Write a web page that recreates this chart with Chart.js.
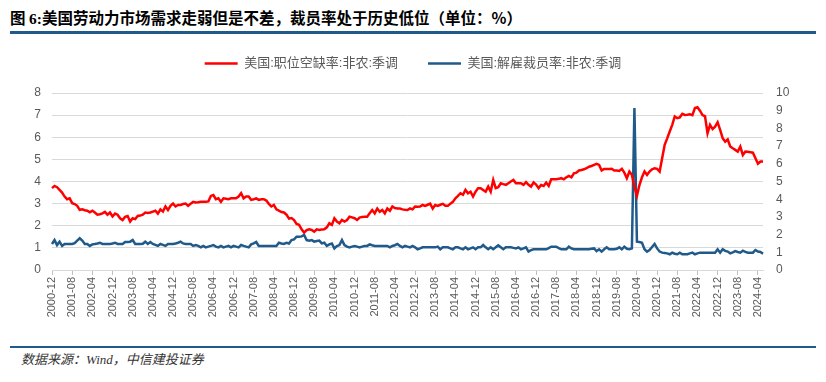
<!DOCTYPE html>
<html><head><meta charset="utf-8">
<script src="https://cdn.jsdelivr.net/npm/chart.js@4.4.1/dist/chart.umd.min.js"></script>
<style>
html,body{margin:0;padding:0;background:#fff;width:826px;height:382px;overflow:hidden;}
#title{position:absolute;left:10px;top:7px;font-family:"Noto Sans CJK SC",sans-serif;font-weight:bold;font-size:15.5px;color:#000;white-space:nowrap;line-height:20px;}
#title .num{font-family:"Liberation Serif",serif;}
#rule1{position:absolute;left:10px;top:31px;width:806px;height:3px;background:#1F5A8A;}
#wrap{position:absolute;left:0;top:27px;width:826px;height:313px;}
#rule2{position:absolute;left:10px;top:346px;width:806px;height:2px;background:#1F5A8A;}
#src{position:absolute;left:21px;top:350px;font-family:"Noto Sans CJK SC",sans-serif;font-style:italic;font-size:13px;color:#333;white-space:nowrap;line-height:18px;}
#src .lat{font-family:"Liberation Serif",serif;}
</style>
</head><body>
<div id="title">图 <span class="num">6:</span>美国劳动力市场需求走弱但是不差，裁员率处于历史低位（单位：%）</div>
<div id="rule1"></div>
<div id="wrap"><canvas id="c"></canvas></div>
<div id="rule2"></div>
<div id="src">数据来源：<span class="lat">Wind</span>，中信建投证券</div>
<script>
const startYear = 2000, startMonth = 12, endYear = 2024, endMonth = 6;
const seriesNames = ['美国:职位空缺率:非农:季调', '美国:解雇裁员率:非农:季调'];
const tickLabels = ['2000-12','2001-08','2002-04','2002-12','2003-08','2004-04','2004-12','2005-08','2006-04','2006-12','2007-08','2008-04','2008-12','2009-08','2010-04','2010-12','2011-08','2012-04','2012-12','2013-08','2014-04','2014-12','2015-08','2016-04','2016-12','2017-08','2018-04','2018-12','2019-08','2020-04','2020-12','2021-08','2022-04','2022-12','2023-08','2024-04'];

// 职位空缺率 (left axis, %)
const jobOpeningsRate = [
3.70,3.80,3.74,3.62,3.50,3.32,3.20,3.24,3.02,2.98,2.90,2.72,2.74,2.70,2.68,2.61,2.68,2.60,2.50,2.52,
2.56,2.63,2.50,2.60,2.42,2.55,2.50,2.34,2.26,2.40,2.44,2.19,2.34,2.30,2.44,2.46,2.50,2.60,2.58,2.60,
2.64,2.68,2.55,2.74,2.64,2.87,2.71,2.90,3.00,2.87,2.94,2.94,2.98,3.00,2.90,3.00,3.08,3.05,3.06,3.08,
3.08,3.08,3.10,3.35,3.39,3.20,3.24,3.08,3.24,3.22,3.20,3.24,3.24,3.24,3.32,3.47,3.24,3.32,3.32,3.17,
3.20,3.24,3.17,3.20,3.20,3.14,2.99,2.87,2.94,2.74,2.68,2.62,2.60,2.50,2.32,2.35,2.26,2.08,2.04,1.84,
1.69,1.80,1.84,1.81,1.73,1.84,1.81,1.83,1.84,1.93,2.11,2.04,2.34,2.19,2.11,2.26,2.19,2.26,2.41,2.38,
2.34,2.26,2.37,2.40,2.41,2.41,2.56,2.71,2.56,2.78,2.63,2.71,2.56,2.78,2.68,2.87,2.80,2.78,2.78,2.74,
2.72,2.71,2.78,2.74,2.87,2.86,2.87,2.94,2.90,2.95,3.00,2.78,2.94,2.90,2.95,2.99,2.90,2.90,3.00,3.08,
3.24,3.35,3.47,3.40,3.62,3.47,3.54,3.32,3.54,3.70,3.70,3.62,3.54,3.77,3.54,4.07,3.70,3.74,3.92,3.88,
3.85,3.92,4.00,4.07,3.92,3.92,3.92,3.85,3.97,3.85,3.77,3.96,3.86,3.70,3.84,3.80,3.95,3.80,4.10,4.10,
4.10,4.12,4.15,4.10,4.19,4.25,4.19,4.37,4.40,4.50,4.52,4.55,4.60,4.67,4.70,4.75,4.80,4.75,4.50,4.57,
4.57,4.57,4.58,4.50,4.50,4.48,4.57,4.40,4.15,4.45,4.30,3.77,3.35,3.84,4.19,4.45,4.30,4.45,4.55,4.60,
4.57,4.45,5.05,5.66,5.95,6.26,6.56,6.94,6.86,6.90,7.06,7.01,7.02,7.04,7.00,7.32,7.36,7.20,7.00,6.95,
6.18,6.56,6.37,6.48,6.68,6.33,5.96,5.80,5.90,5.58,5.50,5.43,5.35,5.58,5.20,5.35,5.34,5.32,5.30,5.05,
4.80,4.90,4.90];

// 解雇裁员率 (right axis, %)
const layoffsRate = [
1.47,1.69,1.41,1.60,1.36,1.47,1.47,1.47,1.47,1.52,1.66,1.79,1.66,1.47,1.47,1.36,1.45,1.47,1.50,1.54,
1.47,1.47,1.47,1.47,1.50,1.54,1.47,1.47,1.47,1.58,1.58,1.60,1.69,1.47,1.47,1.47,1.48,1.60,1.47,1.58,
1.47,1.42,1.36,1.47,1.42,1.36,1.47,1.47,1.47,1.50,1.54,1.60,1.50,1.47,1.47,1.47,1.36,1.41,1.36,1.28,
1.36,1.28,1.32,1.36,1.41,1.32,1.28,1.36,1.28,1.32,1.36,1.28,1.36,1.32,1.28,1.41,1.36,1.32,1.28,1.45,
1.50,1.58,1.36,1.36,1.36,1.36,1.36,1.36,1.36,1.36,1.54,1.50,1.47,1.54,1.50,1.69,1.73,1.88,1.88,1.90,
1.98,1.69,1.66,1.69,1.60,1.64,1.66,1.50,1.54,1.36,1.45,1.50,1.22,1.35,1.41,1.69,1.41,1.32,1.28,1.32,
1.36,1.32,1.28,1.32,1.36,1.36,1.45,1.40,1.36,1.36,1.36,1.36,1.36,1.36,1.28,1.36,1.40,1.47,1.36,1.28,
1.36,1.32,1.28,1.36,1.28,1.17,1.22,1.28,1.28,1.28,1.28,1.28,1.28,1.32,1.17,1.28,1.28,1.28,1.22,1.17,
1.28,1.28,1.22,1.17,1.28,1.17,1.22,1.28,1.17,1.28,1.28,1.41,1.28,1.17,1.28,1.17,1.28,1.39,1.28,1.17,
1.28,1.28,1.28,1.25,1.22,1.28,1.17,1.22,1.28,1.04,1.12,1.17,1.17,1.17,1.17,1.17,1.17,1.24,1.32,1.32,
1.32,1.24,1.17,1.17,1.17,1.32,1.22,1.17,1.17,1.17,1.17,1.17,1.17,1.17,1.20,1.22,1.07,1.17,1.04,1.17,
1.28,1.17,1.17,1.17,1.20,1.28,1.17,1.32,1.20,1.17,1.22,9.15,1.60,1.58,1.54,1.17,1.04,1.13,1.30,1.47,
1.22,1.04,0.98,0.96,0.94,0.89,0.98,0.92,0.89,0.98,0.89,0.89,0.89,0.94,0.98,0.89,0.94,0.98,0.98,0.98,
0.98,0.98,0.98,0.98,1.17,0.98,1.17,1.08,1.04,0.94,1.00,1.07,1.02,0.98,1.09,1.02,0.98,0.98,0.98,1.13,
1.04,1.02,0.92];

const categories = [];
for (let y = startYear, m = startMonth; y < endYear || (y === endYear && m <= endMonth); ) {
  categories.push(y + '-' + String(m).padStart(2, '0'));
  m++; if (m > 12) { m = 1; y++; }
}

const RED = '#FF0000', BLUE = '#1F5A8A', TXT = '#595959';
const FONT = '"Liberation Sans", "Noto Sans CJK SC", sans-serif';

// adds space between the legend row and the plot area
const legendSpacer = {
  id: 'legendSpacer',
  afterInit(chart) {
    const lg = chart.legend;
    if (!lg) return;
    const fit = lg.fit;
    lg.fit = function () { fit.call(this); this.height += 13; };
  }
};

new Chart(document.getElementById('c'), {
  type: 'line',
  data: {
    labels: categories,
    datasets: [
      { label: seriesNames[0], data: jobOpeningsRate, yAxisID: 'yL', borderColor: RED, backgroundColor: RED, borderWidth: 2.5, pointRadius: 0, tension: 0 },
      { label: seriesNames[1], data: layoffsRate, yAxisID: 'yR', borderColor: BLUE, backgroundColor: BLUE, borderWidth: 2.5, pointRadius: 0, tension: 0 }
    ]
  },
  plugins: [legendSpacer],
  options: {
    responsive: true, maintainAspectRatio: false, animation: false,
    layout: { padding: { left: 0, right: 0, top: 0, bottom: 0 } },
    plugins: {
      legend: {
        position: 'top',
        labels: { usePointStyle: true, pointStyle: 'line', pointStyleWidth: 33, boxHeight: 13, padding: 30, color: TXT, font: { size: 13, family: FONT } }
      },
      tooltip: { enabled: false }
    },
    scales: {
      x: {
        type: 'category',
        offset: false,
        grid: { display: true, drawOnChartArea: false, drawTicks: true, tickLength: 5, color: '#BFBFBF' },
        border: { display: true, color: '#D9D9D9', width: 1 },
        ticks: {
          autoSkip: false, maxRotation: 90, minRotation: 90, padding: 2, color: TXT, font: { size: 11, family: FONT },
          callback: function (v, i) { const lab = categories[i]; return tickLabels.includes(lab) ? lab : null; }
        },
        afterFit: function (s) { s.height = 70; }
      },
      yL: {
        position: 'left', min: 0, max: 8,
        grid: { color: '#D9D9D9', lineWidth: 1, drawTicks: false },
        border: { display: false },
        ticks: { stepSize: 1, padding: 11, color: TXT, font: { size: 12, family: FONT } },
        afterFit: function (s) { s.width = 52; }
      },
      yR: {
        position: 'right', min: 0, max: 10,
        grid: { display: false, drawTicks: false },
        border: { display: false },
        ticks: { stepSize: 1, padding: 13, color: TXT, font: { size: 12, family: FONT } },
        afterFit: function (s) { s.width = 63; }
      }
    }
  }
});
</script>
</body></html>
